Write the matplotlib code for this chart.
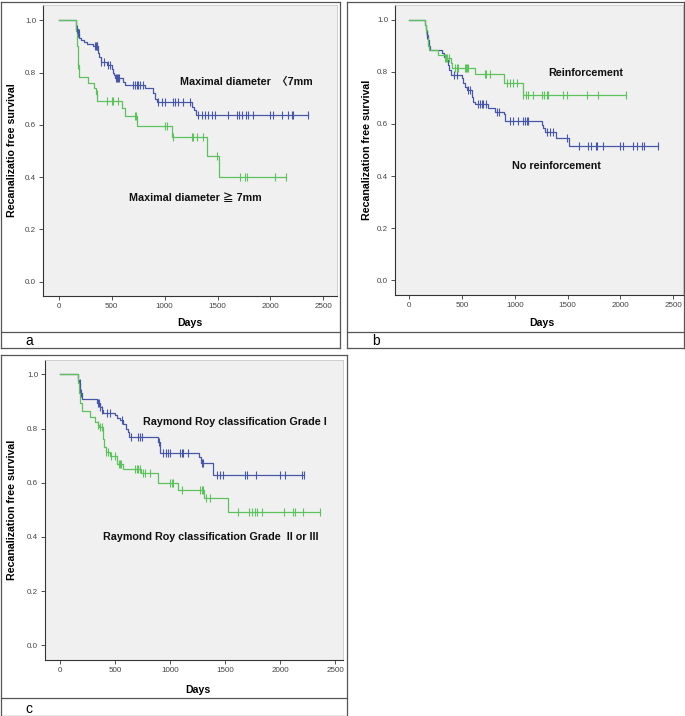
import numpy as np
import matplotlib
matplotlib.use("Agg")
import matplotlib.pyplot as plt
from matplotlib.lines import Line2D

# ---------------- data ----------------
x_ticks = [0, 500, 1000, 1500, 2000, 2500]
y_ticks = [0.0, 0.2, 0.4, 0.6, 0.8, 1.0]

# Panel a: maximal diameter < 7mm (blue)
a_lt7_event_days = [160, 168, 178, 195, 215, 240, 265, 327, 372, 385, 395, 455,
                    500, 512, 522, 535, 611, 627, 815, 894, 910, 925, 1256, 1275, 1300]
a_lt7_surv = [0.982, 0.965, 0.95, 0.931, 0.925, 0.918, 0.91, 0.903, 0.874, 0.86,
              0.839, 0.829, 0.812, 0.80, 0.79, 0.78, 0.765, 0.751, 0.74, 0.723,
              0.699, 0.689, 0.67, 0.657, 0.638]
a_lt7_censor = [170, 182, 190, 340, 350, 358, 365, 400, 425, 465, 480, 540, 550,
                560, 570, 705, 721, 737, 753, 768, 800, 941, 973, 1004, 1083, 1099,
                1131, 1178, 1240, 1318, 1350, 1381, 1413, 1445, 1476, 1602, 1681,
                1706, 1728, 1769, 1791, 1838, 1995, 2027, 2106, 2168, 2200, 2216, 2357]

# Panel a: maximal diameter >= 7mm (green)
a_ge7_event_days = [165, 172, 180, 190, 280, 337, 348, 365, 595, 628, 737, 1074, 1398, 1518]
a_ge7_surv = [0.96, 0.90, 0.83, 0.782, 0.761, 0.74, 0.718, 0.691, 0.663, 0.633,
              0.595, 0.552, 0.481, 0.40]
a_ge7_censor = [185, 359, 453, 500, 516, 564, 720, 732, 1004, 1020, 1076, 1256,
                1271, 1303, 1366, 1495, 1712, 1759, 1775, 2042, 2147]

# Panel b: reinforcement (green)
b_r_event_days = [150, 158, 168, 178, 190, 272, 335, 395, 405, 622, 900, 1075]
b_r_surv = [0.98, 0.96, 0.93, 0.90, 0.884, 0.865, 0.852, 0.832, 0.816, 0.79, 0.756, 0.711]
b_r_censor = [160, 340, 350, 360, 380, 432, 455, 464, 527, 536, 543, 559, 717, 722,
              764, 922, 953, 985, 1016, 1080, 1105, 1127, 1174, 1254, 1275, 1301,
              1316, 1452, 1496, 1680, 1790, 2052]

# Panel b: no reinforcement (blue)
b_nr_event_days = [150, 158, 168, 178, 186, 195, 307, 330, 350, 365, 380, 392, 496,
                   512, 528, 543, 590, 608, 622, 748, 811, 895, 906, 1255, 1270, 1290,
                   1389, 1515]
b_nr_surv = [0.98, 0.96, 0.94, 0.922, 0.90, 0.884, 0.871, 0.858, 0.845, 0.826, 0.807,
             0.788, 0.775, 0.756, 0.743, 0.73, 0.705, 0.683, 0.675, 0.66, 0.647, 0.637,
             0.611, 0.596, 0.583, 0.57, 0.545, 0.517]
b_nr_censor = [170, 423, 455, 559, 574, 650, 668, 685, 700, 723, 827, 852, 953, 985,
               1032, 1080, 1095, 1111, 1127, 1300, 1332, 1364, 1490, 1610, 1695, 1718,
               1768, 1780, 1837, 1995, 2026, 2121, 2153, 2200, 2222, 2358]

# Panel c: Raymond Roy grade I (blue)
c_g1_event_days = [164, 170, 179, 194, 331, 360, 376, 391, 498, 520, 543, 573, 598,
                   615, 628, 892, 907, 1265, 1280, 1393]
c_g1_surv = [0.979, 0.967, 0.93, 0.908, 0.895, 0.88, 0.868, 0.859, 0.849, 0.84,
             0.832, 0.817, 0.80, 0.788, 0.77, 0.752, 0.711, 0.694, 0.674, 0.629]
c_g1_censor = [175, 185, 340, 350, 365, 380, 422, 452, 560, 640, 710, 725, 740, 898,
               937, 959, 983, 998, 1089, 1104, 1120, 1165, 1286, 1302, 1423, 1453,
               1483, 1680, 1696, 1781, 1999, 2045, 2196, 2217]

# Panel c: Raymond Roy grade II or III (green)
c_g23_event_days = [164, 172, 180, 194, 270, 316, 340, 355, 385, 395, 416, 452, 513,
                    520, 573, 734, 892, 1074, 1308, 1523]
c_g23_surv = [0.967, 0.93, 0.893, 0.865, 0.844, 0.825, 0.813, 0.804, 0.76, 0.733,
              0.715, 0.699, 0.684, 0.668, 0.651, 0.635, 0.598, 0.573, 0.542, 0.493]
c_g23_censor = [345, 361, 376, 420, 430, 465, 495, 530, 540, 555, 680, 695, 710, 725,
                755, 771, 816, 998, 1013, 1029, 1104, 1271, 1286, 1302, 1326, 1362,
                1620, 1720, 1742, 1772, 1787, 1833, 2036, 2120, 2136, 2206, 2363]

# ---------------- styling ----------------
BLUE = "#4757a8"
GREEN = "#5cc25c"
BG = "#f0f0f0"
FONT = ["Liberation Sans", "Noto Sans CJK SC", "DejaVu Sans"]
plt.rcParams["font.family"] = FONT

W, H = 685, 716
fig = plt.figure(figsize=(W / 100, H / 100), dpi=100)
fig.patch.set_facecolor("white")


def add_ax(l, t, r, b):
    return fig.add_axes([l / W, 1 - b / H, (r - l) / W, (b - t) / H])


def km(ax, ev, sv, cens, color):
    ev = np.asarray(ev, float)
    sv = np.asarray(sv, float)
    cens = np.asarray(cens, float)
    tend = max(ev.max(), cens.max())
    xs = np.concatenate([[0.0], ev, [tend]])
    ys = np.concatenate([[1.0], sv, [sv[-1]]])
    ax.step(xs, ys, where="post", color=color, lw=0.9, zorder=3)
    idx = np.searchsorted(ev, cens, side="right")
    cy = np.concatenate([[1.0], sv])[idx]
    ax.plot(cens, cy, ls="none", marker="|", ms=5.5, mew=0.8, color=color, zorder=4)


def style(ax, xlim, ylim, ylabel):
    ax.set_facecolor(BG)
    ax.set_xlim(*xlim)
    ax.set_ylim(*ylim)
    ax.set_xticks(x_ticks)
    ax.set_yticks(y_ticks)
    ax.set_yticklabels([f"{v:.1f}" for v in y_ticks])
    ax.tick_params(labelsize=5.8, labelcolor="#444444", color="#333333",
                   length=3, width=0.6, pad=2)
    for s in ["left", "bottom"]:
        ax.spines[s].set_color("#333333")
        ax.spines[s].set_linewidth(0.8)
    for s in ["top", "right"]:
        ax.spines[s].set_color("#c8c8c8")
        ax.spines[s].set_linewidth(0.6)
    ax.set_xlabel("Days", fontsize=7.6, fontweight="bold")
    ax.set_ylabel(ylabel, fontsize=7.7, fontweight="bold")


def frame(l, t, r, sep, b):
    kw = dict(color="#555555", lw=0.9, transform=fig.transFigure)
    pts = [((l, r), (t, t)), ((l, r), (sep, sep)), ((l, r), (b, b)),
           ((l, l), (t, b)), ((r, r), (t, b))]
    for xs, ys in pts:
        fig.add_artist(Line2D([x / W for x in xs], [1 - y / H for y in ys], **kw))


def px_label(ax, x_px, y_px, ax_box, axis):
    l, t, r, b = ax_box
    if axis == "x":
        ax.xaxis.set_label_coords((x_px - l) / (r - l), (b - y_px) / (b - t))
        ax.xaxis.label.set_va("center")
    else:
        ax.yaxis.set_label_coords((x_px - l) / (r - l), (b - y_px) / (b - t))
        ax.yaxis.label.set_ha("center")
        ax.yaxis.label.set_va("center")


TXT = dict(fontsize=7.75, fontweight="bold", ha="left", va="center", color="#111111")

# ---------------- panel a ----------------
box_a = (43, 5, 337, 296)
ax_a = add_ax(*box_a)
style(ax_a, (-148, 2628), (-0.0547, 1.0585), "Recanalizatio free survival")
km(ax_a, a_lt7_event_days, a_lt7_surv, a_lt7_censor, BLUE)
km(ax_a, a_ge7_event_days, a_ge7_surv, a_ge7_censor, GREEN)
px_label(ax_a, 190, 323, box_a, "x")
px_label(ax_a, 12, 150, box_a, "y")
ax_a.text(0.466, 0.735, "Maximal diameter  \u30087mm", transform=ax_a.transAxes, **TXT)
ax_a.text(0.293, 0.337, "Maximal diameter \u2267 7mm", transform=ax_a.transAxes, **TXT)
frame(0.5, 1.5, 340, 332, 348)
fig.text(25 / W, 1 - 341 / H, "a", fontsize=10, va="center", ha="left")

# ---------------- panel b ----------------
box_b = (395, 5, 683, 295)
ax_b = add_ax(*box_b)
style(ax_b, (-135, 2592), (-0.056, 1.056), "Recanalization free survival")
km(ax_b, b_nr_event_days, b_nr_surv, b_nr_censor, BLUE)
km(ax_b, b_r_event_days, b_r_surv, b_r_censor, GREEN)
px_label(ax_b, 542, 323, box_b, "x")
px_label(ax_b, 367, 150, box_b, "y")
ax_b.text(0.531, 0.766, "Reinforcement", transform=ax_b.transAxes, **TXT)
ax_b.text(0.406, 0.445, "No reinforcement", transform=ax_b.transAxes, **TXT)
frame(347, 1.5, 684, 332, 348)
fig.text(372 / W, 1 - 341 / H, "b", fontsize=10, va="center", ha="left")

# ---------------- panel c ----------------
box_c = (45, 360, 343, 660)
ax_c = add_ax(*box_c)
style(ax_c, (-139, 2572), (-0.054, 1.053), "Recanalization free survival")
km(ax_c, c_g1_event_days, c_g1_surv, c_g1_censor, BLUE)
km(ax_c, c_g23_event_days, c_g23_surv, c_g23_censor, GREEN)
px_label(ax_c, 198, 690, box_c, "x")
px_label(ax_c, 12, 510, box_c, "y")
ax_c.text(0.329, 0.793, "Raymond Roy classification Grade I", transform=ax_c.transAxes, **TXT)
ax_c.text(0.195, 0.41, "Raymond Roy classification Grade  II or III", transform=ax_c.transAxes, **TXT)
frame(0.5, 355, 347, 698, 715.5)
fig.text(25 / W, 1 - 709 / H, "c", fontsize=10, va="center", ha="left")

fig.savefig("out.png", dpi=100, facecolor="white")
